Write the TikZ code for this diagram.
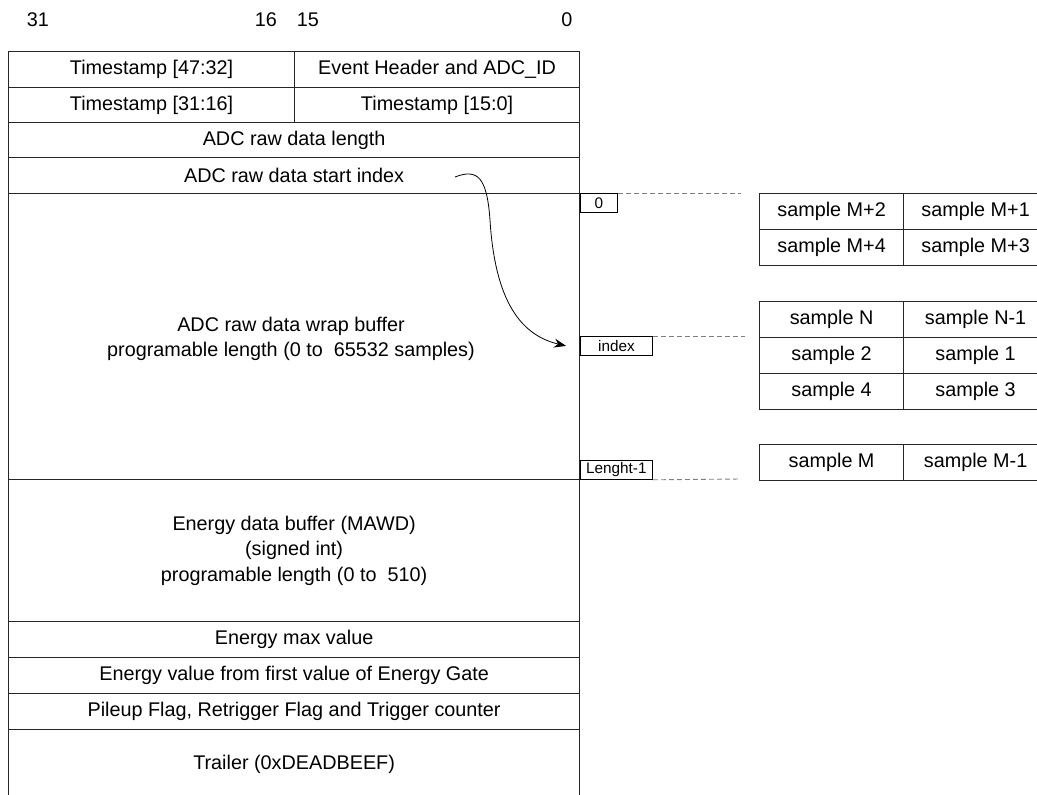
\documentclass[tikz,border=0pt]{standalone}
\usepackage{fontspec}
\setmainfont{Liberation Sans}
\usetikzlibrary{arrows.meta}
\begin{document}
\begin{tikzpicture}[x=1pt,y=-1pt,
  cell/.style={draw=black!85, line width=1.2pt, inner sep=0pt, anchor=north west,
    font=\fontsize{19.8}{25.5}\selectfont, align=center},
  tag/.style={draw=black, line width=0.8pt, inner sep=0pt, anchor=north west,
    font=\fontsize{15.3}{16}\selectfont},
  guide/.style={draw=black!50, line width=0.9pt, dash pattern=on 5pt off 3pt},
  bitnum/.style={font=\fontsize{19.8}{22}\selectfont, inner sep=0pt}]
\useasboundingbox (0,0) rectangle (1037,795);
\clip (0,0) rectangle (1037,795);

% bit numbers
\node[bitnum] (b31) at (38,20) {31};
\node[bitnum] (b16) at (266,20) {16};
\node[bitnum] (b15) at (308,20) {15};
\node[bitnum] (b0)  at (567,20) {0};

% main event structure
\node[cell, minimum width=286pt, minimum height=36pt] (ts4732) at (8,51) {Timestamp [47:32]};
\node[cell, minimum width=285pt, minimum height=36pt] (hdr) at (294,51) {Event Header and ADC\_ID};
\node[cell, minimum width=286pt, minimum height=35pt] (ts3116) at (8,87) {Timestamp [31:16]};
\node[cell, minimum width=285pt, minimum height=35pt] (ts150) at (294,87) {Timestamp [15:0]};
\node[cell, minimum width=571pt, minimum height=35pt] (rawlen) at (8,122) {ADC raw data length};
\node[cell, minimum width=571pt, minimum height=36pt] (rawidx) at (8,157) {ADC raw data start index};
\node[cell, minimum width=571pt, minimum height=286pt] (wrap) at (8,193) {};
\node[cell, draw=none, anchor=center] (wraptxt) at (291,339) {ADC raw data wrap buffer\\programable length (0 to\ \ 65532 samples)};
\node[cell, minimum width=571pt, minimum height=142pt] (energy) at (8,479) {Energy data buffer (MAWD)\\(signed int)\\programable length (0 to\ \ 510)};
\node[cell, minimum width=571pt, minimum height=36pt] (emax) at (8,621) {Energy max value};
\node[cell, minimum width=571pt, minimum height=36pt] (efirst) at (8,657) {Energy value from first value of Energy Gate};
\node[cell, minimum width=571pt, minimum height=36pt] (pileup) at (8,693) {Pileup Flag, Retrigger Flag and Trigger counter};
\node[cell, minimum width=571pt, minimum height=69pt] (trailer) at (8,729) {Trailer (0xDEADBEEF)};

% index tags
\node[tag, minimum width=37pt, minimum height=19pt] (tag0) at (580,193) {0};
\node[tag, minimum width=72pt, minimum height=19pt] (tagidx) at (580,336) {index};
\node[tag, minimum width=72pt, minimum height=19pt] (taglen) at (580,460) {Lenght-1};

\coordinate (g0) at (741,193);
\coordinate (gidx) at (745,336);
\coordinate (glen) at (741,479);
\draw[guide] (tag0.north east) -- (g0);
\draw[guide] (tagidx.north east) -- (gidx);
\draw[guide] (taglen.south east) -- (glen);

% arrow from start index to index tag
\coordinate (arrS) at (455,177);
\draw[line width=0.8pt, -{Stealth[length=12pt,width=9pt]}] (arrS)
  .. controls (478,168) and (487,178) .. (490,220)
  .. controls (495,300) and (520,335) .. ([xshift=-14pt]tagidx.west);

% sample tables
\node[cell, minimum width=144pt, minimum height=36pt] (m2) at (759,193) {sample M+2};
\node[cell, minimum width=144pt, minimum height=36pt] (m1) at (903,193) {sample M+1};
\node[cell, minimum width=144pt, minimum height=36pt] (m4) at (759,229) {sample M+4};
\node[cell, minimum width=144pt, minimum height=36pt] (m3) at (903,229) {sample M+3};

\node[cell, minimum width=144pt, minimum height=36pt] (sn) at (759,301) {sample N};
\node[cell, minimum width=144pt, minimum height=36pt] (sn1) at (903,301) {sample N-1};
\node[cell, minimum width=144pt, minimum height=36pt] (s2) at (759,337) {sample 2};
\node[cell, minimum width=144pt, minimum height=36pt] (s1) at (903,337) {sample 1};
\node[cell, minimum width=144pt, minimum height=36pt] (s4) at (759,373) {sample 4};
\node[cell, minimum width=144pt, minimum height=36pt] (s3) at (903,373) {sample 3};

\node[cell, minimum width=144pt, minimum height=36pt] (sm) at (759,444) {sample M};
\node[cell, minimum width=144pt, minimum height=36pt] (sm1) at (903,444) {sample M-1};
\end{tikzpicture}
\end{document}
